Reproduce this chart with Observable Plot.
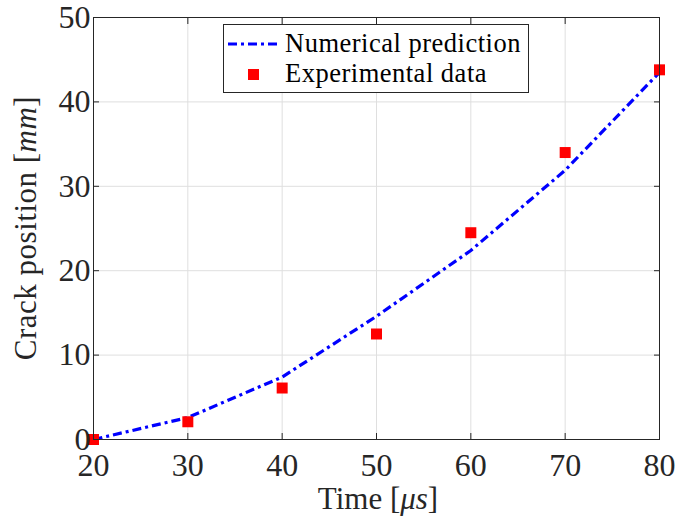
<!DOCTYPE html>
<html>
<head>
<meta charset="utf-8">
<script src="https://cdn.jsdelivr.net/npm/d3@7"></script>
<script src="https://cdn.jsdelivr.net/npm/@observablehq/plot@0.6"></script>
<style>
  html, body { margin: 0; padding: 0; background: #fff; }
  #chart svg { display: block; }
</style>
</head>
<body>
<div id="chart"></div>
<script>
const timeNum = [20, 30, 40, 50, 60, 70, 80];
const crackNum = [0, 2.6, 7.4, 14.6, 22.4, 31.9, 43.5];
const timeExp = [20, 30, 40, 50, 60, 70, 80];
const crackExp = [0, 2.1, 6.1, 12.5, 24.5, 34.0, 43.8];
const xTicks = [20, 30, 40, 50, 60, 70, 80];
const yTicks = [0, 10, 20, 30, 40, 50];
const seriesNames = ["Numerical prediction", "Experimental data"];

const numData = timeNum.map((t, i) => ({t, c: crackNum[i]}));
const expData = timeExp.map((t, i) => ({t, c: crackExp[i]}));

const FONT = "'Liberation Serif', 'Times New Roman', serif";
const W = 676, H = 517;
const mL = 93, mR = 17, mT = 17, mB = 78;

const plot = Plot.plot({
  width: W,
  height: H,
  marginLeft: mL,
  marginRight: mR,
  marginTop: mT,
  marginBottom: mB,
  style: {fontFamily: FONT, fontSize: "32px", color: "#262626", background: "#fff"},
  x: {domain: [20, 80], ticks: xTicks},
  y: {domain: [0, 50], ticks: yTicks},
  marks: [
    Plot.gridX(xTicks, {stroke: "#dfdfdf", strokeOpacity: 1, strokeWidth: 1}),
    Plot.gridY(yTicks, {stroke: "#dfdfdf", strokeOpacity: 1, strokeWidth: 1}),
    Plot.line(numData, {x: "t", y: "c", stroke: "#0000ff", strokeWidth: 3.2, strokeDasharray: "9,4,3,4", strokeLinecap: "butt"}),
    Plot.dot(expData, {x: "t", y: "c", symbol: "square", fill: "#ff0000", r: 6.2, stroke: "none"}),
    Plot.frame({stroke: "#262626", strokeWidth: 1}),
    Plot.axisX(xTicks, {anchor: "bottom", tickSize: -6, tickPadding: 20, label: null, stroke: "#262626", fill: "#262626", fontSize: 32}),
    Plot.axisX(xTicks, {anchor: "top", tickSize: -6, tickFormat: () => "", label: null, stroke: "#262626"}),
    Plot.axisY(yTicks, {anchor: "left", tickSize: -6, tickPadding: 9, label: null, stroke: "#262626", fill: "#262626", fontSize: 32}),
    Plot.axisY(yTicks, {anchor: "right", tickSize: -6, tickFormat: () => "", label: null, stroke: "#262626"})
  ]
});
document.getElementById("chart").appendChild(plot);

const svg = d3.select(plot);
// Axis labels
const xl = svg.append("text")
  .attr("x", (mL + W - mR) / 2 + 2)
  .attr("y", 509)
  .attr("text-anchor", "middle")
  .attr("font-family", FONT)
  .attr("font-size", 31)
  .attr("fill", "#262626");
xl.append("tspan").text("Time [");
xl.append("tspan").attr("font-style", "italic").text("μs");
xl.append("tspan").text("]");

const yl = svg.append("text")
  .attr("transform", `translate(36,${(mT + H - mB) / 2}) rotate(-90)`)
  .attr("text-anchor", "middle")
  .attr("font-family", FONT)
  .attr("font-size", 31)
  .attr("letter-spacing", 0.5)
  .attr("fill", "#262626");
yl.append("tspan").text("Crack position [");
yl.append("tspan").attr("font-style", "italic").text("mm");
yl.append("tspan").text("]");

// Legend
const lg = svg.append("g").attr("font-family", FONT).attr("font-size", 26.5).attr("letter-spacing", 0.5).attr("fill", "#000").attr("text-anchor", "start");
lg.append("rect").attr("x", 223.5).attr("y", 24.5).attr("width", 305).attr("height", 68)
  .attr("fill", "#fff").attr("stroke", "#262626").attr("stroke-width", 1);
lg.append("line").attr("x1", 228).attr("x2", 279).attr("y1", 44).attr("y2", 44)
  .attr("stroke", "#0000ff").attr("stroke-width", 3.2).attr("stroke-dasharray", "9,4,3,4");
lg.append("rect").attr("x", 248).attr("y", 69).attr("width", 11).attr("height", 11).attr("fill", "#ff0000");
lg.append("text").attr("x", 285).attr("y", 52).attr("text-anchor", "start").text(seriesNames[0]);
lg.append("text").attr("x", 285).attr("y", 82).attr("text-anchor", "start").text(seriesNames[1]);
</script>
</body>
</html>
